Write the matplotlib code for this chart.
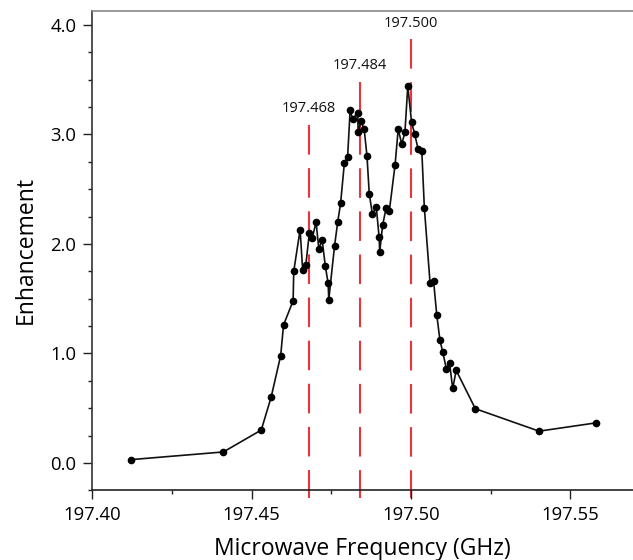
import matplotlib
matplotlib.use("Agg")
import matplotlib.pyplot as plt
from matplotlib.ticker import MultipleLocator, FormatStrFormatter

plt.rcParams['font.family'] = ['Open Sans', 'DejaVu Sans']

# Microwave frequency (GHz)
freq = [197.4121, 197.4411, 197.4530, 197.4561, 197.4591, 197.4600,
        197.4630, 197.4632, 197.4652, 197.4660, 197.4670, 197.4681,
        197.4690, 197.4702, 197.4711, 197.4721, 197.4731, 197.4740,
        197.4742, 197.4760, 197.4770, 197.4779, 197.4791, 197.4801,
        197.4809, 197.4817, 197.4833, 197.4834, 197.4843, 197.4853,
        197.4862, 197.4869, 197.4879, 197.4891, 197.4900, 197.4902,
        197.4911, 197.4922, 197.4932, 197.4950, 197.4960, 197.4971,
        197.4981, 197.4990, 197.5002, 197.5012, 197.5022, 197.5034,
        197.5042, 197.5060, 197.5071, 197.5081, 197.5091, 197.5100,
        197.5111, 197.5121, 197.5131, 197.5142, 197.5202, 197.5402,
        197.5582]
# Enhancement
enh = [0.03, 0.10, 0.30, 0.60, 0.98, 1.26,
       1.48, 1.75, 2.13, 1.76, 1.81, 2.10,
       2.05, 2.20, 1.95, 2.04, 1.80, 1.64,
       1.49, 1.98, 2.20, 2.37, 2.74, 2.79,
       3.22, 3.14, 3.20, 3.02, 3.12, 3.05,
       2.80, 2.46, 2.27, 2.34, 2.06, 1.93,
       2.17, 2.33, 2.30, 2.72, 3.05, 2.91,
       3.02, 3.44, 3.11, 3.00, 2.87, 2.85,
       2.33, 1.64, 1.66, 1.35, 1.12, 1.01,
       0.86, 0.915, 0.68, 0.845, 0.495, 0.29,
       0.366]

# Marked line positions (GHz) and their labels
marks = [197.468, 197.484, 197.500]
mark_labels = ['197.468', '197.484', '197.500']
mark_tops = [3.09, 3.48, 3.87]

x_ticks = [197.40, 197.45, 197.50, 197.55]
y_ticks = [0.0, 1.0, 2.0, 3.0, 4.0]

fig = plt.figure(figsize=(6.33, 5.6), dpi=100)
ax = fig.add_axes([0.146, 0.1245, 0.854, 0.8564])

ax.set_xlim(197.40, 197.5697)
ax.set_ylim(-0.25, 4.13)

for xm, lab, top in zip(marks, mark_labels, mark_tops):
    ax.plot([xm, xm], [top, -0.325], color='#e8353d', lw=1.5,
            linestyle=(0, (14.2, 6.5)), clip_on=False, zorder=1)
    ax.text(xm, top + 0.145, lab, ha='center', va='center',
            fontsize=10.5, color='#111111')

ax.plot(freq, enh, color='#111111', lw=1.2, marker='o', markersize=4.5,
        markerfacecolor='#000000', markeredgecolor='#000000', zorder=3)

ax.set_xticks(x_ticks)
ax.set_yticks(y_ticks)
ax.xaxis.set_major_formatter(FormatStrFormatter('%.2f'))
ax.yaxis.set_major_formatter(FormatStrFormatter('%.1f'))
ax.xaxis.set_minor_locator(MultipleLocator(0.025))
ax.yaxis.set_minor_locator(MultipleLocator(0.25))

ax.tick_params(axis='both', which='major', direction='out', length=6.5,
               width=1.0, labelsize=13.3, color='#222222')
ax.tick_params(axis='both', which='minor', direction='out', length=3.2,
               width=1.0, color='#222222')
ax.tick_params(axis='x', which='major', pad=5)
ax.tick_params(axis='y', which='major', pad=5)
ax.tick_params(top=False, right=False, which='both')

ax.spines['right'].set_visible(False)
ax.spines['top'].set_color('#888888')
ax.spines['top'].set_linewidth(1.2)
ax.spines['left'].set_color('#333333')
ax.spines['left'].set_linewidth(1.2)
ax.spines['bottom'].set_color('#222222')
ax.spines['bottom'].set_linewidth(1.2)

ax.set_xlabel('Microwave Frequency (GHz)', fontsize=16.5, labelpad=9)
ax.set_ylabel('Enhancement', fontsize=16.5, labelpad=9)

fig.savefig('out.png', dpi=100)
